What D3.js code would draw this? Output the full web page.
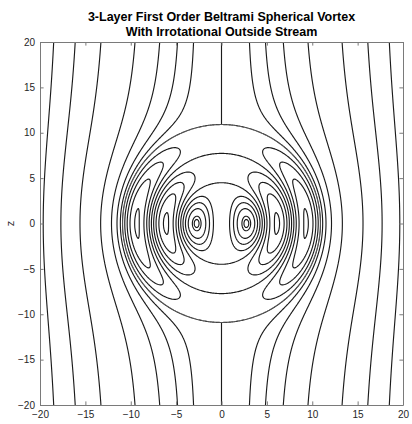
<!DOCTYPE html>
<html><head><meta charset="utf-8">
<script src="https://cdn.jsdelivr.net/npm/d3@7"></script>
<style>
body{margin:0;background:#fff;}
svg text{font-family:"Liberation Sans",Arial,Helvetica,sans-serif;}
</style></head><body>
<svg id="chart" width="412" height="424"></svg>
<script>
// ---- data ----
const titleLines = ["3-Layer First Order Beltrami Spherical Vortex", "With Irrotational Outside Stream"];
const yLabel = "z";
const xDomain = [-20, 20];
const zDomain = [-20, 20];
const xTicks = [-20, -15, -10, -5, 0, 5, 10, 15, 20];
const zTicks = [-20, -15, -10, -5, 0, 5, 10, 15, 20];
const layerZeros = [4.4934, 7.7253, 10.9041];   // zeros of j1(kr): layer boundaries
const streamSpeed = [1];                          // U of outside stream
const waveNumber = [1];                           // k
const outsideLevels = [-160, -120, -80, -40, -20, -10, -4, 0, 4, 10, 20, 40, 80, 120, 160];
const insideLevels = [-17, -16, -12, -8, -4, 0, 4, 8, 12, 16];
const gridStep = [0.1];

// ---- layout ----
const W = 412, H = 424;
const M = {left: 40, right: 9, top: 42, bottom: 19};
const svg = d3.select("#chart");
const x = d3.scaleLinear().domain(xDomain).range([M.left, W - M.right]);
const y = d3.scaleLinear().domain(zDomain).range([H - M.bottom, M.top]);

// ---- fields ----
const k = waveNumber[0], U = streamSpeed[0];
const a = layerZeros[2] / k;
const rj1 = t => Math.sin(t) / t - Math.cos(t);          // t*j1(t)
const A = 3 * U * a / (2 * k * Math.sin(k * a));          // velocity matching at r=a
const step = gridStep[0];
const n = Math.round((xDomain[1] - xDomain[0]) / step) + 2;
const x0 = xDomain[0] - step / 2, z0 = zDomain[1] + step / 2;
const inVals = new Float64Array(n * n), outVals = new Float64Array(n * n);
for (let j = 0; j < n; j++) {
  const z = z0 - j * step;
  for (let i = 0; i < n; i++) {
    const xx = x0 + i * step;
    const r2 = xx * xx + z * z, r = Math.sqrt(r2), s2 = xx * xx / r2;
    inVals[j * n + i] = A * rj1(k * r) * s2;
    outVals[j * n + i] = Math.sign(xx) * 0.5 * U * (r2 - a * a * a / r) * s2;
  }
}
const proj = d3.geoTransform({
  point(cx, cy) {
    this.stream.point(x(x0 + (cx - 0.5) * step), y(z0 - (cy - 0.5) * step));
  }
});
const path = d3.geoPath(proj);

// ---- clips ----
const defs = svg.append("defs");
const cx0 = x(0), cy0 = y(0), rp = x(a) - x(0);
const circleD = `M${cx0 + rp},${cy0}A${rp},${rp} 0 1,0 ${cx0 - rp},${cy0}A${rp},${rp} 0 1,0 ${cx0 + rp},${cy0}Z`;
const rectD = `M${x(xDomain[0])},${y(zDomain[1])}H${x(xDomain[1])}V${y(zDomain[0])}H${x(xDomain[0])}Z`;
defs.append("clipPath").attr("id", "clipOut").append("path")
  .attr("d", rectD + circleD).attr("clip-rule", "evenodd");
defs.append("clipPath").attr("id", "clipIn").append("path").attr("d", circleD);

const lineStyle = g => g.attr("fill", "none").attr("stroke", "#1c1c1c").attr("stroke-width", 1.15).attr("stroke-linejoin", "round");

svg.append("g").attr("clip-path", "url(#clipOut)").call(lineStyle)
  .selectAll("path").data(d3.contours().size([n, n]).thresholds(outsideLevels)(outVals))
  .join("path").attr("d", path);
svg.append("g").attr("clip-path", "url(#clipIn)").call(lineStyle)
  .selectAll("path").data(d3.contours().size([n, n]).thresholds(insideLevels)(inVals))
  .join("path").attr("d", path);

// ---- axes ----
const tick = 3.6, axisColor = "#7a7a7a", labelColor = "#262626";
function styleAxis(g) {
  g.select(".domain").attr("stroke", axisColor);
  g.selectAll(".tick line").attr("stroke", axisColor);
  g.selectAll(".tick text").attr("fill", labelColor).attr("font-size", 10);
  g.attr("font-family", null);
}
svg.append("g").attr("transform", `translate(0,${y(zDomain[0])})`)
  .call(d3.axisBottom(x).tickValues(xTicks).tickSize(-tick).tickSizeOuter(0).tickPadding(6)).call(styleAxis);
svg.append("g").attr("transform", `translate(0,${y(zDomain[1])})`)
  .call(d3.axisTop(x).tickValues(xTicks).tickSize(-tick).tickSizeOuter(0).tickFormat("")).call(styleAxis);
svg.append("g").attr("transform", `translate(${x(xDomain[0])},0)`)
  .call(d3.axisLeft(y).tickValues(zTicks).tickSize(-tick).tickSizeOuter(0).tickPadding(5)).call(styleAxis);
svg.append("g").attr("transform", `translate(${x(xDomain[1])},0)`)
  .call(d3.axisRight(y).tickValues(zTicks).tickSize(-tick).tickSizeOuter(0).tickFormat("")).call(styleAxis);

// ---- labels ----
svg.append("text").attr("transform", `translate(14,${y(0)}) rotate(-90)`)
  .attr("text-anchor", "middle").attr("font-size", 11).attr("fill", labelColor).text(yLabel);
svg.selectAll("text.title").data(titleLines).join("text").attr("class", "title")
  .attr("x", (x(xDomain[0]) + x(xDomain[1])) / 2).attr("y", (d, i) => 21 + i * 14.5)
  .attr("text-anchor", "middle").attr("font-size", 12.5).attr("font-weight", "bold").attr("fill", "#000")
  .text(d => d);
</script>
</body></html>
